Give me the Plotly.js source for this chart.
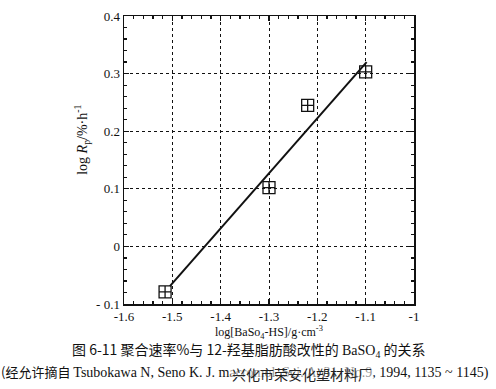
<!DOCTYPE html>
<html>
<head>
<meta charset="utf-8">
<script src="https://cdn.plot.ly/plotly-3.0.1.min.js"></script>
<style>html,body{margin:0;padding:0;background:#fff;}#chart{width:496px;height:389px;}</style>
</head>
<body>
<div id="chart"></div>
<script>
// Data
var pointX = [-1.515, -1.30, -1.22, -1.10];
var pointY = [-0.079, 0.102, 0.245, 0.303];
var lineX = [-1.505, -1.098];
var lineY = [-0.069, 0.320];
var xTickVals = [-1.6, -1.5, -1.4, -1.3, -1.2, -1.1, -1.0];
var xTickText = ["-1.6", "-1.5", "-1.4", "-1.3", "-1.2", "-1.1", "-1"];
var yTickVals = [-0.1, 0, 0.1, 0.2, 0.3, 0.4];
var yTickText = ["- 0.1", "0", "0.1", "0.2", "0.3", "0.4"];

var serif = "Liberation Serif, Times New Roman, serif";
var cjk = "Noto Sans CJK SC, sans-serif";

var traces = [
  {x: lineX, y: lineY, mode: "lines", line: {color: "#111", width: 2}, hoverinfo: "skip"},
  {x: pointX, y: pointY, mode: "markers",
   marker: {symbol: "square-cross-open", size: 12, color: "#111", line: {width: 1.3, color: "#111"}}}
];

var axisCommon = {
  showline: true, linecolor: "#111", linewidth: 1.5, mirror: "ticks",
  ticks: "inside", ticklen: 5, tickcolor: "#111", tickwidth: 1.2,
  showgrid: true, gridcolor: "#111", griddash: "3px,3px", gridwidth: 1,
  zeroline: false, tickfont: {family: serif, size: 13, color: "#111"},
  minor: {ticks: "inside", ticklen: 3, tickcolor: "#111", dtick: 0.02, showgrid: false}
};

var layout = {
  width: 496, height: 389,
  margin: {l: 124, r: 82, t: 16, b: 85},
  paper_bgcolor: "#fff", plot_bgcolor: "#fff",
  showlegend: false,
  xaxis: Object.assign({}, axisCommon, {range: [-1.6, -1.0], tickmode: "array", tickvals: xTickVals, ticktext: xTickText}),
  yaxis: Object.assign({}, axisCommon, {range: [-0.1, 0.4], tickmode: "array", tickvals: yTickVals, ticktext: yTickText}),
  annotations: [
    {xref: "paper", yref: "paper", x: -0.145, xanchor: "center", y: 0.57, yanchor: "middle",
     text: "log <i>R</i><sub>p</sub>/%·h<sup>-1</sup>", textangle: -90,
     showarrow: false, font: {family: serif, size: 14, color: "#111"}},
    {xref: "paper", yref: "paper", x: 0.5, y: -0.1, yanchor: "middle", text: "log[BaSo<sub>4</sub>-HS]/g·cm<sup>-3</sup>",
     showarrow: false, font: {family: serif, size: 12, color: "#111"}},
    {xref: "paper", yref: "paper", x: 0.43, y: -0.157, yanchor: "middle",
     text: "图 6-11 聚合速率%与 12-羟基脂肪酸改性的 <span style=\"font-family:Liberation Serif\">BaSO<sub>4</sub></span> 的关系",
     showarrow: false, font: {family: cjk, size: 14, color: "#111"}},
    {xref: "paper", yref: "paper", x: -0.43, xanchor: "left", y: -0.233, yanchor: "middle",
     text: "(经允许摘自 <span style=\"font-family:Liberation Serif;font-size:14px\">Tsubokawa N, Seno K. J. macromol. Sci. A, 31, No.9, 1994, 1135 ~ 1145)</span>",
     showarrow: false, font: {family: cjk, size: 13, color: "#111"}},
    {xref: "paper", yref: "paper", x: 0.614, y: -0.243, yanchor: "middle",
     text: "兴化市荣安化塑材料厂", bgcolor: "rgba(255,255,255,0.55)",
     showarrow: false, font: {family: cjk, size: 14, color: "#222"}}
  ]
};

Plotly.newPlot("chart", traces, layout, {staticPlot: true, displayModeBar: false});
</script>
</body>
</html>
